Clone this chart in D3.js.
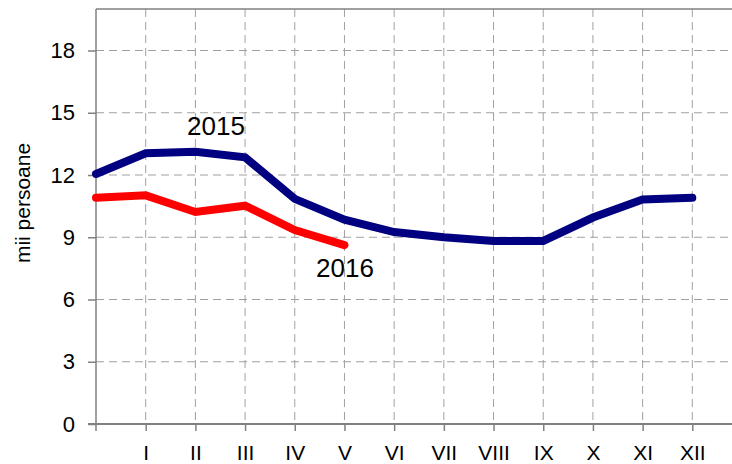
<!DOCTYPE html>
<html>
<head>
<meta charset="utf-8">
<script src="https://cdn.jsdelivr.net/npm/d3@7"></script>
<style>
  body { margin: 0; background: #fff; }
  text { font-family: "Liberation Sans", Arial, sans-serif; fill: #000; }
</style>
</head>
<body>
<div id="chart"></div>
<script>
const width = 732,
  height = 464,
  margin = {top: 9, right: -10, bottom: 40, left: 96};

// index 0 is the unlabeled start point on the y axis
const months = ['', 'I', 'II', 'III', 'IV', 'V', 'VI', 'VII', 'VIII', 'IX', 'X', 'XI', 'XII'];
const values2015 = [12.05, 13.05, 13.12, 12.85, 10.85, 9.85, 9.25, 9.0, 8.82, 8.82, 9.95, 10.82, 10.9];
const values2016 = [10.9, 11.02, 10.22, 10.52, 9.35, 8.62];
const yTicks = [0, 3, 6, 9, 12, 15, 18];

const x = d3.scaleLinear()
  .domain([0, 13])
  .range([margin.left, width - margin.right]);

const y = d3.scaleLinear()
  .domain([0, 20])
  .range([height - margin.bottom, margin.top]);

const svg = d3.select('#chart')
  .append('svg')
  .attr('width', width)
  .attr('height', height);

const grid = '#a0a0a0', axisCol = '#808080';

// horizontal grid
svg.append('g')
  .selectAll('line')
  .data(yTicks.filter(d => d > 0))
  .enter().append('line')
  .attr('x1', x(0)).attr('x2', x(13))
  .attr('y1', d => y(d)).attr('y2', d => y(d))
  .attr('stroke', grid)
  .attr('stroke-dasharray', '8,5');

// vertical grid
svg.append('g')
  .selectAll('line')
  .data(d3.range(1, 13))
  .enter().append('line')
  .attr('x1', d => x(d)).attr('x2', d => x(d))
  .attr('y1', y(20)).attr('y2', y(0))
  .attr('stroke', grid)
  .attr('stroke-dasharray', '8,5');

// top border
svg.append('line')
  .attr('x1', x(0)).attr('x2', x(13))
  .attr('y1', y(20)).attr('y2', y(20))
  .attr('stroke', axisCol).attr('stroke-width', 1.5);

// y axis
const yAxis = svg.append('g')
  .attr('transform', `translate(${x(0)},0)`)
  .call(d3.axisLeft(y).tickValues(yTicks).tickSize(8).tickPadding(13));
yAxis.select('.domain').remove();
yAxis.append('line')
  .attr('y1', y(20)).attr('y2', y(0) + 7)
  .attr('stroke', axisCol).attr('stroke-width', 1.5);
yAxis.selectAll('.tick line').attr('stroke', axisCol).attr('stroke-width', 1.5);
yAxis.selectAll('.tick text')
  .style('font-size', '22px')
  .style('font-family', '"Liberation Sans", Arial, sans-serif')
  .attr('fill', '#000');

// x axis
const xAxis = svg.append('g')
  .attr('transform', `translate(0,${y(0)})`)
  .call(d3.axisBottom(x).tickValues(d3.range(1, 13)).tickFormat(i => months[i]).tickSize(7).tickPadding(14));
xAxis.select('.domain').remove();
xAxis.append('line')
  .attr('x1', x(0) - 8).attr('x2', x(13))
  .attr('stroke', axisCol).attr('stroke-width', 2);
xAxis.selectAll('.tick line').attr('stroke', axisCol).attr('stroke-width', 1.5);
xAxis.selectAll('.tick text')
  .style('font-size', '21px')
  .style('font-family', '"Liberation Sans", Arial, sans-serif')
  .attr('fill', '#000');

// lines
const line = d3.line()
  .x((d, i) => x(i))
  .y(d => y(d));

svg.append('path')
  .datum(values2015)
  .attr('d', line)
  .attr('fill', 'none')
  .attr('stroke', '#000080')
  .attr('stroke-width', 8)
  .attr('stroke-linecap', 'round')
  .attr('stroke-linejoin', 'miter');

svg.append('path')
  .datum(values2016)
  .attr('d', line)
  .attr('fill', 'none')
  .attr('stroke', '#ff0000')
  .attr('stroke-width', 8)
  .attr('stroke-linecap', 'round')
  .attr('stroke-linejoin', 'miter');

// series labels
svg.append('text')
  .attr('x', 216).attr('y', 135)
  .attr('text-anchor', 'middle')
  .style('font-size', '26px')
  .text('2015');

svg.append('text')
  .attr('x', 345).attr('y', 277)
  .attr('text-anchor', 'middle')
  .style('font-size', '26px')
  .text('2016');

// y axis title
svg.append('text')
  .attr('transform', `translate(30,${203}) rotate(-90)`)
  .attr('text-anchor', 'middle')
  .style('font-size', '21px')
  .text('mii persoane');
</script>
</body>
</html>
